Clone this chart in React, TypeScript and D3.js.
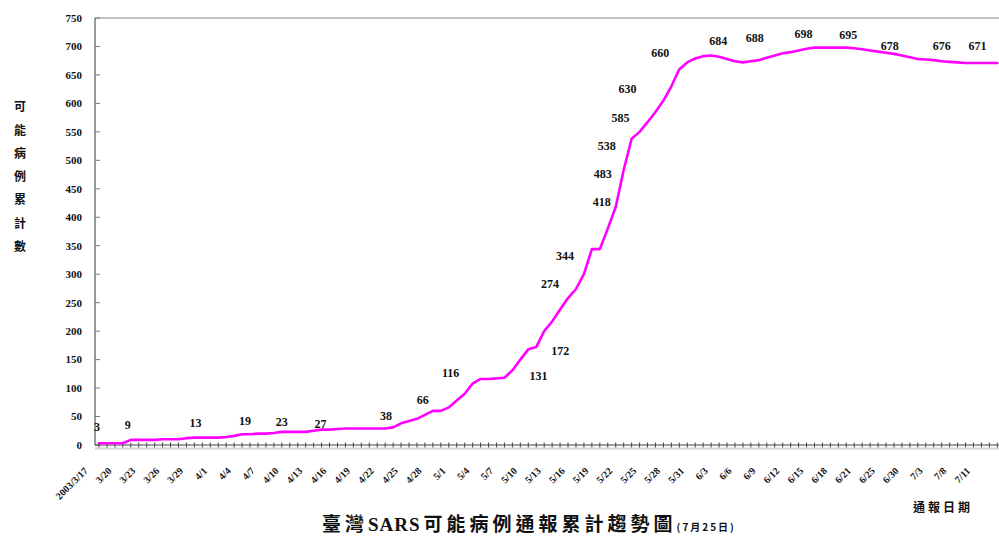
import React from "react";
import * as d3 from "d3";

// Cumulative probable SARS cases in Taiwan, one value per reporting day
const cumulativeCases: number[] = [
  3, 3, 3, 3, 9, 9, 9, 9, 10, 10,
  10, 12, 13, 13, 13, 13, 14, 16, 19, 19,
  20, 20, 21, 23, 23, 23, 23, 25, 27, 27,
  28, 29, 29, 29, 29, 29, 29, 31, 38, 42,
  46, 53, 60, 60, 66, 78, 90, 108, 116, 116,
  117, 118, 131, 150, 168, 172, 200, 217, 238, 258,
  274, 300, 344, 344, 380, 418, 483, 538, 550, 567,
  585, 605, 630, 660, 672, 679, 683, 684, 682, 678,
  674, 672, 674, 676, 680, 684, 688, 690, 693, 696,
  698, 698, 698, 698, 698, 697, 695, 693, 691, 689,
  687, 684, 681, 678, 677, 676, 674, 673, 672, 671,
  671, 671, 671, 671,
];

// Date labels, one for every third reporting day
const dateLabels: string[] = [
  "2003/3/17", "3/20", "3/23", "3/26", "3/29", "4/1", "4/4", "4/7", "4/10", "4/13",
  "4/16", "4/19", "4/22", "4/25", "4/28", "5/1", "5/4", "5/7", "5/10", "5/13",
  "5/16", "5/19", "5/22", "5/25", "5/28", "5/31", "6/3", "6/6", "6/9", "6/12",
  "6/15", "6/18", "6/21", "6/25", "6/30", "7/3", "7/8", "7/11",
];

const yTicks: number[] = d3.range(0, 751, 50);

// Days whose cumulative count is written on the chart
const annotatedDays: number[] = [
  0, 4, 12, 18, 23, 28, 38, 44, 48, 52, 55, 60, 62, 65, 66, 67, 70, 72, 73,
  77, 86, 90, 96, 103, 105, 109,
];

// Placement of each count label relative to its point (layout only)
const annotationOffsets: [number, number][] = [
  [-2, -16], [-3, -15], [1, -15], [3, -13], [0, -10], [-1, -6], [-15, -8],
  [-26, -8], [-30, -6], [26, 5], [24, 4], [-26, -5], [-27, 7], [-14, -5],
  [-21, 4], [-25, 7], [-35, 6], [-44, 2], [-19, -16], [7, -15], [-28, -15],
  [-11, -14], [-14, -15], [-28, -13], [8, -14], [12, -17],
];

const yTitleChars: string[] = ["可", "能", "病", "例", "累", "計", "數"];

const W = 999;
const H = 539;
const LEFT = 95;
const TOP = 18;
const BOTTOM = 445;
const STEP = 7.95;

const SERIF = "'Liberation Serif', 'Times New Roman', serif";
const CJK = "'Noto Sans CJK TC', 'Noto Sans CJK SC', sans-serif";

export default function App() {
  const x = d3
    .scaleBand<number>()
    .domain(d3.range(cumulativeCases.length))
    .range([LEFT, LEFT + STEP * cumulativeCases.length])
    .paddingInner(0)
    .paddingOuter(0);
  const bw = x.bandwidth();
  const cx = (i: number) => (x(i) as number) + bw / 2;

  const y = d3.scaleLinear().domain([0, 750]).range([BOTTOM, TOP]);

  const line = d3
    .line<number>()
    .x((_, i) => cx(i))
    .y((d) => y(d));

  return (
    <div style={{ position: "absolute", left: 0, top: 0 }}>
      <svg width={W} height={H} style={{ display: "block", background: "#fff" }}>
        {/* frame */}
        <line x1={LEFT} x2={W} y1={TOP} y2={TOP} stroke="#8a8a8a" strokeWidth={1.2} />
        <line x1={LEFT} x2={LEFT} y1={TOP} y2={BOTTOM} stroke="#6e6e6e" strokeWidth={1.4} />

        {/* y axis */}
        {yTicks.map((t) => (
          <g key={t}>
            <line x1={LEFT} x2={LEFT + 5} y1={y(t)} y2={y(t)} stroke="#777" strokeWidth={1} />
            <text
              x={82}
              y={y(t)}
              dy="0.35em"
              textAnchor="end"
              fontFamily={SERIF}
              fontWeight="bold"
              fontSize={11}
              fill="#111"
            >
              {t}
            </text>
          </g>
        ))}

        {/* y axis title, stacked vertically */}
        {yTitleChars.map((c, i) => (
          <text
            key={c}
            x={20}
            y={107 + i * 23.3}
            dy="0.35em"
            textAnchor="middle"
            fontFamily={CJK}
            fontWeight="bold"
            fontSize={12}
            fill="#111"
          >
            {c}
          </text>
        ))}

        {/* x axis */}
        <line x1={LEFT} x2={W} y1={BOTTOM + 3.5} y2={BOTTOM + 3.5} stroke="#d6d6d6" strokeWidth={2} />
        <line x1={LEFT} x2={W} y1={BOTTOM} y2={BOTTOM} stroke="#444" strokeWidth={1.2} />
        {cumulativeCases.map((_, i) => (
          <line
            key={i}
            x1={cx(i)}
            x2={cx(i)}
            y1={BOTTOM - 2.5}
            y2={BOTTOM + 2.5}
            stroke="#444"
            strokeWidth={1}
          />
        ))}
        {dateLabels.map((lab, k) => {
          const px = cx(k * 3);
          return (
            <text
              key={lab}
              transform={`translate(${px - 13},${BOTTOM + 24}) rotate(-45)`}
              textAnchor="end"
              dy="0.35em"
              fontFamily={SERIF}
              fontWeight="bold"
              fontSize={10}
              fill="#111"
            >
              {lab}
            </text>
          );
        })}

        {/* cumulative case line */}
        <path
          d={line(cumulativeCases) ?? ""}
          fill="none"
          stroke="#ff00ff"
          strokeWidth={2.6}
          strokeLinejoin="round"
          strokeLinecap="round"
        />

        {/* count labels */}
        {annotatedDays.map((day, k) => {
          const [dx, dy] = annotationOffsets[k];
          return (
            <text
              key={day}
              x={cx(day) + dx}
              y={y(cumulativeCases[day]) + dy}
              dy="0.35em"
              textAnchor="middle"
              fontFamily={SERIF}
              fontWeight="bold"
              fontSize={12}
              fill="#111"
            >
              {cumulativeCases[day]}
            </text>
          );
        })}

        {/* chart title */}
        <text x={322} y={531} fontWeight="bold" fill="#111" letterSpacing={4}>
          <tspan fontFamily={CJK} fontSize={19}>臺灣</tspan>
          <tspan fontFamily={SERIF} fontSize={19} letterSpacing={1}>SARS</tspan>
          <tspan fontFamily={CJK} fontSize={19} dx={3}>可能病例通報累計趨勢圖</tspan>
          <tspan fontFamily={CJK} fontSize={10} letterSpacing={2}>(7月25日)</tspan>
        </text>

        {/* x axis caption */}
        <text
          x={943}
          y={508}
          dy="0.35em"
          textAnchor="middle"
          fontFamily={CJK}
          fontWeight="bold"
          fontSize={12}
          letterSpacing={3}
          fill="#111"
        >
          通報日期
        </text>
      </svg>
    </div>
  );
}
